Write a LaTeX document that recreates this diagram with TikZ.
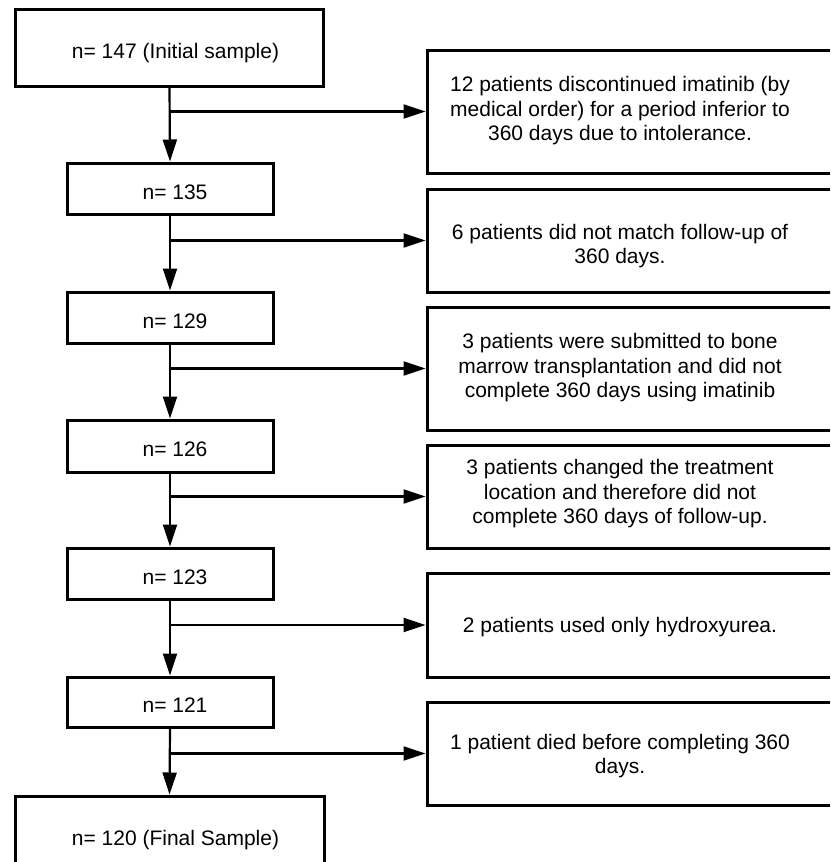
\documentclass[tikz,border=0pt]{standalone}
\usepackage{fontspec}
\setmainfont{Liberation Sans}
\usetikzlibrary{arrows.meta}
\begin{document}
\begin{tikzpicture}[x=1pt,y=-1pt,
  box/.style={draw, line width=3pt, inner sep=0pt, font=\fontsize{21}{24.5}\selectfont},
  lbox/.style={box, minimum width=206pt, minimum height=51pt, text height=21pt, text depth=0pt},
  wbox/.style={box, minimum width=308pt, minimum height=77pt, text height=21pt, text depth=0pt},
  rbox/.style={box, minimum width=413pt},
  rtext/.style={align=center, font=\fontsize{21}{24.5}\selectfont, inner sep=0pt},
  conn/.style={line width=2.2pt, -{Triangle[length=22pt,width=14pt]}}]
\useasboundingbox (0,0) rectangle (830,862);
\clip (0,0) rectangle (830,862);
% left column
\node[wbox] (b1) at (169.5,47.5) {\hspace*{12pt}n= 147 (Initial sample)};
\node[lbox] (b2) at (170,188.5) {\hspace*{10pt}n= 135};
\node[lbox] (b3) at (170,317.5) {\hspace*{10pt}n= 129};
\node[lbox, minimum height=52pt] (b4) at (170,446) {\hspace*{10pt}n= 126};
\node[lbox] (b5) at (170,573.5) {\hspace*{10pt}n= 123};
\node[lbox, minimum height=50pt] (b6) at (170,702) {\hspace*{10pt}n= 121};
\node[wbox, minimum width=309pt] (b7) at (169.5,834.5) {\hspace*{12pt}n= 120 (Final Sample)};
% right column boxes
\node[rbox, minimum height=123pt] (r1) at (633.5,111.5) {};
\node[rbox, minimum height=103pt] (r2) at (633.5,240.5) {};
\node[rbox, minimum height=123pt] (r3) at (633.5,368.5) {};
\node[rbox, minimum height=103pt] (r4) at (633.5,496.5) {};
\node[rbox, minimum height=104pt] (r5) at (633.5,625) {};
\node[rbox, minimum height=103pt] (r6) at (633.5,753.5) {};
% right column texts
\node[rtext] (t1) at (620,111) {12 patients discontinued imatinib (by\\medical order) for a period inferior to\\360 days due to intolerance.};
\node[rtext] (t2) at (620,246) {6 patients did not match follow-up of\\360 days.};
\node[rtext] (t3) at (620,368) {3 patients were submitted to bone\\marrow transplantation and did not\\complete 360 days using imatinib};
\node[rtext] (t4) at (620,494) {3 patients changed the treatment\\location and therefore did not\\complete 360 days of follow-up.};
\node[rtext] (t5) at (620,627) {2 patients used only hydroxyurea.};
\node[rtext] (t6) at (620,756) {1 patient died before completing 360\\days.};
% vertical connectors
\draw[conn] (b1.south) -- (b2.north);
\draw[conn] (b2.south) -- (b3.north);
\draw[conn] (b3.south) -- (b4.north);
\draw[conn] (b4.south) -- (b5.north);
\draw[conn] (b5.south) -- (b6.north);
\draw[conn] (b6.south) -- (b7.north);
% horizontal branches
\draw[conn] (b1.south |- r1.west) -- (r1.west);
\draw[conn] (b2.south |- r2.west) -- (r2.west);
\draw[conn] (b3.south |- r3.west) -- (r3.west);
\draw[conn] (b4.south |- r4.west) -- (r4.west);
\draw[conn] (b5.south |- r5.west) -- (r5.west);
\draw[conn] (b6.south |- r6.west) -- (r6.west);
\end{tikzpicture}
\end{document}
